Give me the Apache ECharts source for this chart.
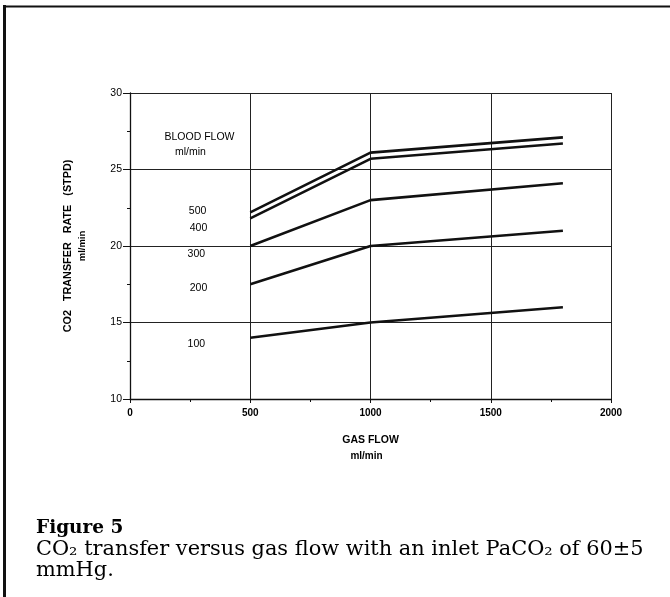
<!DOCTYPE html>
<html>
<head>
<meta charset="utf-8">
<title>Figure 5</title>
<script src="https://cdn.jsdelivr.net/npm/echarts@6/dist/echarts.min.js"></script>
<style>
  html, body { margin: 0; padding: 0; background: #fff; }
  #main { width: 670px; height: 597px; }
</style>
</head>
<body>
<div id="main"></div>
<script>
// gas flow (ml/min) where each blood-flow curve was measured
const gasFlow = [500, 1000, 1800]
// CO2 transfer rate (ml/min STPD) for each blood flow
const bf500 = [22.2, 26.1, 27.1]
const bf400 = [21.8, 25.7, 26.7]
const bf300 = [20.0, 23.0, 24.1]
const bf200 = [17.5, 20.0, 21.0]
const bf100 = [14.0, 15.0, 16.0]
const seriesNames = ['500', '400', '300', '200', '100']
const seriesValues = [bf500, bf400, bf300, bf200, bf100]

// in-plot annotations, placed in data units
const annoText = ['BLOOD FLOW', 'ml/min', '500', '400', '300', '200', '100']
const annoX = [289, 251, 281, 285, 276, 285, 276]
const annoY = [27.1, 26.15, 22.28, 21.17, 19.47, 17.25, 13.6]

const xTicks = [0, 500, 1000, 1500, 2000]
const yTicks = [10, 15, 20, 25, 30]

const chart = echarts.init(document.getElementById('main'))

const sans = 'Liberation Sans, Arial, sans-serif'
const serif = 'DejaVu Serif, serif'

const lineSeries = seriesNames.map((name, i) => ({
    name: name,
    type: 'line',
    symbol: 'none',
    lineStyle: { color: '#111', width: 2.6 },
    data: gasFlow.map((g, j) => [g, seriesValues[i][j]]),
    z: 5
}))

const option = {
    animation: false,
    backgroundColor: '#fff',
    grid: { left: 130, right: 59, top: 93, bottom: 198 },
    xAxis: {
        type: 'value',
        min: xTicks[0],
        max: xTicks[xTicks.length - 1],
        interval: 500,
        name: '{a|GAS FLOW}\n{b|ml/min}',
        nameLocation: 'middle',
        nameGap: 32,
        nameTextStyle: {
            rich: {
                a: { fontFamily: sans, fontSize: 10.5, fontWeight: 'bold', color: '#000', lineHeight: 18 },
                b: { fontFamily: sans, fontSize: 10, fontWeight: 'bold', color: '#000', lineHeight: 14, padding: [0, 8, 0, 0] }
            }
        },
        axisLine: { lineStyle: { color: '#111', width: 1.3 } },
        axisTick: { show: true, length: 4, lineStyle: { color: '#111' } },
        minorTick: { show: true, splitNumber: 2, length: 3, lineStyle: { color: '#111' } },
        axisLabel: { fontFamily: sans, fontSize: 10, fontWeight: 'bold', color: '#000', margin: 9, formatter: v => String(v) },
        splitLine: { show: true, lineStyle: { color: '#222', width: 1 } }
    },
    yAxis: {
        type: 'value',
        min: yTicks[0],
        max: yTicks[yTicks.length - 1],
        interval: 5,
        name: '{a|CO2   TRANSFER   RATE   (STPD)}\n{b|ml/min}',
        nameLocation: 'middle',
        nameGap: 41,
        nameTextStyle: {
            rich: {
                a: { fontFamily: sans, fontSize: 10.8, fontWeight: 'bold', color: '#000', lineHeight: 15 },
                b: { fontFamily: sans, fontSize: 9.5, fontWeight: 'bold', color: '#000', lineHeight: 13 }
            }
        },
        axisLine: { show: true, lineStyle: { color: '#111', width: 1.3 } },
        axisTick: { show: true, length: 7, lineStyle: { color: '#111' } },
        minorTick: { show: true, splitNumber: 2, length: 3, lineStyle: { color: '#111' } },
        axisLabel: { fontFamily: sans, fontSize: 10.5, color: '#000', margin: 8 },
        splitLine: { show: true, lineStyle: { color: '#222', width: 1 } }
    },
    series: lineSeries.concat([{
        type: 'scatter',
        symbolSize: 0,
        silent: true,
        itemStyle: { opacity: 1 },
        data: annoText.map((t, i) => ({ value: [annoX[i], annoY[i]], name: t })),
        label: {
            show: true,
            position: 'inside',
            formatter: p => p.name,
            fontFamily: sans,
            fontSize: 10.5,
            color: '#000',
            opacity: 1,
            textBorderWidth: 0
        },
        z: 6
    }]),
    graphic: [
        { type: 'line', shape: { x1: 4.5, y1: 5, x2: 4.5, y2: 597 }, style: { stroke: '#111', lineWidth: 3 } },
        { type: 'line', shape: { x1: 3, y1: 6.5, x2: 670, y2: 6.5 }, style: { stroke: '#111', lineWidth: 2 } },
        {
            type: 'text', left: 36, top: 519,
            style: { text: 'Figure 5', font: 'bold 18.5px ' + serif, fill: '#000' }
        },
        {
            type: 'text', left: 36, top: 539,
            style: {
                text: 'CO₂ transfer versus gas flow with an inlet PaCO₂ of 60±5\nmmHg.',
                font: '20.9px ' + serif, fill: '#000', lineHeight: 21
            }
        }
    ]
}

chart.setOption(option)
</script>
</body>
</html>
